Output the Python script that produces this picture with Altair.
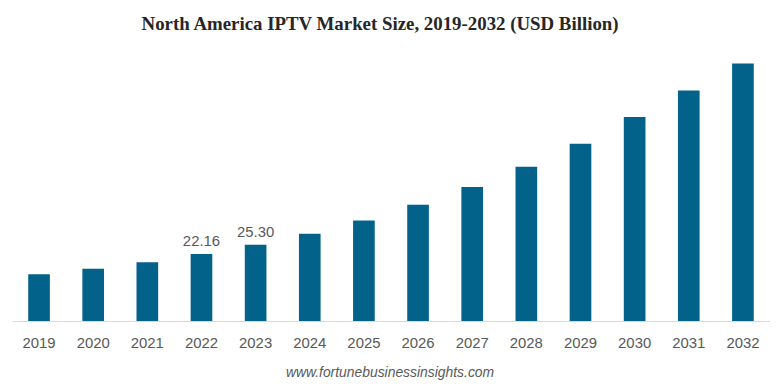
import altair as alt
import pandas as pd

years = ["2019", "2020", "2021", "2022", "2023", "2024", "2025",
         "2026", "2027", "2028", "2029", "2030", "2031", "2032"]
values = [15.45, 17.3, 19.5, 22.16, 25.30, 28.9, 33.3,
          38.5, 44.4, 51.1, 58.7, 67.6, 76.4, 85.3]
labels = ["", "", "", "22.16", "25.30", "", "",
          "", "", "", "", "", "", ""]

df = pd.DataFrame({"year": years, "value": values, "label": labels})

W, H = 764, 270
x = alt.X("year:N", sort=years,
          scale=alt.Scale(paddingInner=0.6, paddingOuter=0.3),
          axis=alt.Axis(title=None, labelAngle=0, ticks=False, domainColor="#d9d9d9",
                        domainWidth=1, labelColor="#595959", labelFontSize=15,
                        labelFont="Liberation Sans", labelPadding=15))
y = alt.Y("value:Q", scale=alt.Scale(domain=[0, H / 3.042], nice=False),
          axis=None)

bars = alt.Chart(df).mark_bar(color="#03628A").encode(x=x, y=y)
text = alt.Chart(df).mark_text(dy=-5, baseline="bottom", fontSize=15,
                               font="Liberation Sans", color="#595959").encode(
    x=alt.X("year:N", sort=years), y="value:Q", text="label:N")
footer = alt.Chart(pd.DataFrame({"t": ["www.fortunebusinessinsights.com"]})).mark_text(
    fontSize=14, font="Liberation Sans", fontStyle="italic", color="#595959",
    align="center", baseline="alphabetic").encode(
    x=alt.value(381), y=alt.value(H + 56), text="t:N")

chart = alt.layer(bars, text, footer).properties(
    width=W, height=H,
    title=alt.TitleParams("North America IPTV Market Size, 2019-2032 (USD Billion)",
                          font="Liberation Serif", fontSize=19, fontWeight="bold",
                          color="#262626", anchor="middle", offset=10, dx=-11),
    padding={"left": 4, "right": 0, "top": 5, "bottom": 0},
).configure(background="white").configure_view(strokeWidth=0)

chart.save("out.html", embed_options={"renderer": "svg", "actions": False})
